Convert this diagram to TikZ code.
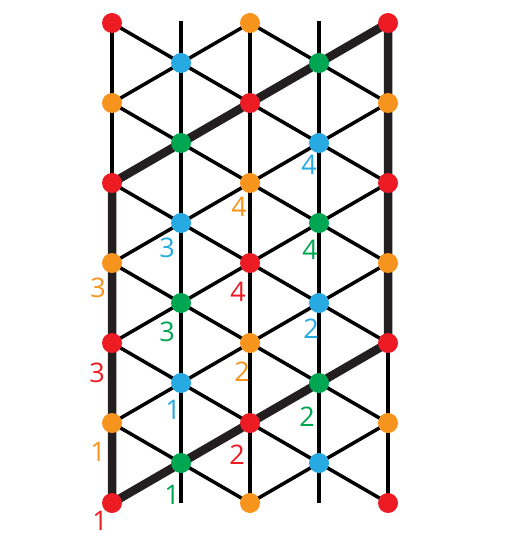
\documentclass[tikz,border=0pt]{standalone}
\usepackage{fontspec}
\setmainfont{Open Sans}
\definecolor{cred}{HTML}{ED1C24}
\definecolor{corange}{HTML}{F7941D}
\definecolor{cblue}{HTML}{27AAE1}
\definecolor{cgreen}{HTML}{00A651}
\definecolor{cdark}{HTML}{231F20}
\begin{document}
\begin{tikzpicture}[x=1pt,y=-1pt,
  thinline/.style={line width=3.5pt, black},
  thickline/.style={line width=8.5pt, cdark, line join=miter},
  dot/.style={circle, inner sep=0pt, minimum size=20pt, draw=none},
  lab/.style={font=\fontsize{27}{27}\selectfont, inner sep=0pt}]
\useasboundingbox (0,0) rectangle (525,545);
% lattice points
\foreach \c in {0,2,4} \foreach \k in {0,...,6}
  \coordinate (p-\c-\k) at ({112+69*\c}, {23+80*\k});
\foreach \c in {1,3} \foreach \k in {0,...,5}
  \coordinate (p-\c-\k) at ({112+69*\c}, {63+80*\k});
\foreach \c in {1,3} {
  \coordinate (top-\c) at ({112+69*\c}, 21);
  \coordinate (bot-\c) at ({112+69*\c}, 503);
}
% vertical lines
\foreach \c in {0,2,4} \draw[thinline] (p-\c-0) -- (p-\c-6);
\foreach \c in {1,3} \draw[thinline] (top-\c) -- (bot-\c);
% diagonal lines
\foreach \c/\l/\r in {1/0/2,3/2/4} {
  \foreach \k in {0,...,5} {
    \pgfmathtruncatemacro{\kk}{\k+1}
    \draw[thinline] (p-\l-\k) -- (p-\c-\k) -- (p-\r-\kk);
    \draw[thinline] (p-\l-\kk) -- (p-\c-\k) -- (p-\r-\k);
  }
}
% thick parallelogram
\draw[thickline] (p-0-6) -- (p-0-2) -- (p-4-0) -- (p-4-4) -- cycle;
% dots
\foreach \c in {0,4} \foreach \k in {0,...,6} {
  \pgfmathparse{int(mod(\k,2))}
  \ifnum\pgfmathresult=0 \node[dot, fill=cred] (n-\c-\k) at (p-\c-\k) {};
  \else \node[dot, fill=corange] (n-\c-\k) at (p-\c-\k) {}; \fi
}
\foreach \k in {0,...,6} {
  \pgfmathparse{int(mod(\k,2))}
  \ifnum\pgfmathresult=0 \node[dot, fill=corange] (n-2-\k) at (p-2-\k) {};
  \else \node[dot, fill=cred] (n-2-\k) at (p-2-\k) {}; \fi
}
\foreach \k in {0,...,5} {
  \pgfmathparse{int(mod(\k,2))}
  \ifnum\pgfmathresult=0
    \node[dot, fill=cblue] (n-1-\k) at (p-1-\k) {};
    \node[dot, fill=cgreen] (n-3-\k) at (p-3-\k) {};
  \else
    \node[dot, fill=cgreen] (n-1-\k) at (p-1-\k) {};
    \node[dot, fill=cblue] (n-3-\k) at (p-3-\k) {};
  \fi
}
% labels
\node[lab, text=cred] (l1) at (100,521) {1};
\node[lab, text=corange] (l2) at (98,452) {1};
\node[lab, text=cred] (l3) at (97,373) {3};
\node[lab, text=corange] (l4) at (98,288) {3};
\node[lab, text=cgreen] (l5) at (172,495) {1};
\node[lab, text=cred] (l6) at (237,455) {2};
\node[lab, text=cgreen] (l7) at (307,417) {2};
\node[lab, text=cblue] (l8) at (173,410) {1};
\node[lab, text=corange] (l9) at (242,372) {2};
\node[lab, text=cgreen] (l10) at (167,332) {3};
\node[lab, text=cblue] (l11) at (311,329) {2};
\node[lab, text=cred] (l12) at (238,292) {4};
\node[lab, text=cblue] (l13) at (167,248) {3};
\node[lab, text=cgreen] (l14) at (310,250) {4};
\node[lab, text=corange] (l15) at (239,207) {4};
\node[lab, text=cblue] (l16) at (309,165) {4};
\end{tikzpicture}
\end{document}
